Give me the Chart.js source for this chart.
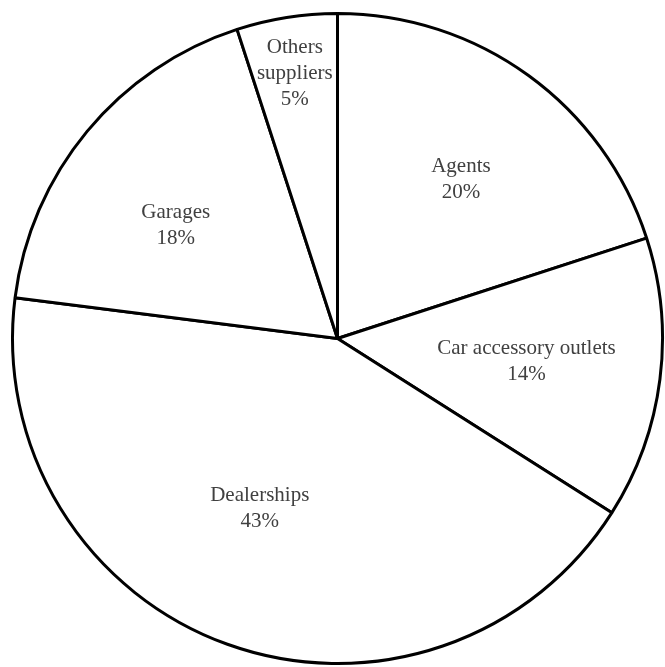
<!DOCTYPE html>
<html>
<head>
<meta charset="utf-8">
<script src="https://cdn.jsdelivr.net/npm/chart.js@4"></script>
<style>
  body { margin: 0; background: #fff; }
  #wrap { width: 665px; height: 667px; }
</style>
</head>
<body>
<div id="wrap"><canvas id="pieChart" width="665" height="667"></canvas></div>
<script>
// data
const categories = ['Agents', 'Car accessory outlets', 'Dealerships', 'Garages', 'Others suppliers'];
const shares = [20, 14, 43, 18, 5];
// how the label text is split over lines
const labelLines = [['Agents'], ['Car accessory outlets'], ['Dealerships'], ['Garages'], ['Others', 'suppliers']];

// draws the name + percent inside each slice
const sliceLabels = {
    id: 'sliceLabels',
    afterDatasetsDraw(chart, args, opts) {
        const ctx = chart.ctx;
        const meta = chart.getDatasetMeta(0);
        ctx.save();
        ctx.font = '21px "Liberation Serif", "Times New Roman", serif';
        ctx.fillStyle = '#404040';
        ctx.textAlign = 'center';
        ctx.textBaseline = 'middle';
        meta.data.forEach((arc, i) => {
            const p = arc.getProps(['x', 'y', 'startAngle', 'endAngle', 'outerRadius'], true);
            const mid = (p.startAngle + p.endAngle) / 2;
            const r = p.outerRadius * opts.radius[i];
            const cx = p.x + Math.cos(mid) * r + opts.shift[i][0];
            const cy = p.y + Math.sin(mid) * r + opts.shift[i][1];
            const lines = labelLines[i].concat([shares[i] + '%']);
            const lh = 26;
            lines.forEach((t, j) => {
                ctx.fillText(t, cx, cy + (j - (lines.length - 1) / 2) * lh);
            });
        });
        ctx.restore();
    }
};

new Chart(document.getElementById('pieChart'), {
    type: 'pie',
    data: {
        labels: categories,
        datasets: [{
            data: shares,
            backgroundColor: '#ffffff',
            borderColor: '#000000',
            borderWidth: 3,
            borderAlign: 'center'
        }]
    },
    options: {
        responsive: false,
        animation: false,
        layout: { padding: { left: 10, right: 0, top: 12, bottom: 2 } },
        plugins: {
            legend: { display: false },
            tooltip: { enabled: false },
            sliceLabels: {
                radius: [0.62, 0.58, 0.57, 0.61, 0.82],
                shift: [[5, 4], [2, -1], [-15, -4], [-9, 13], [-1, -2]]
            }
        }
    },
    plugins: [sliceLabels]
});
</script>
</body>
</html>
